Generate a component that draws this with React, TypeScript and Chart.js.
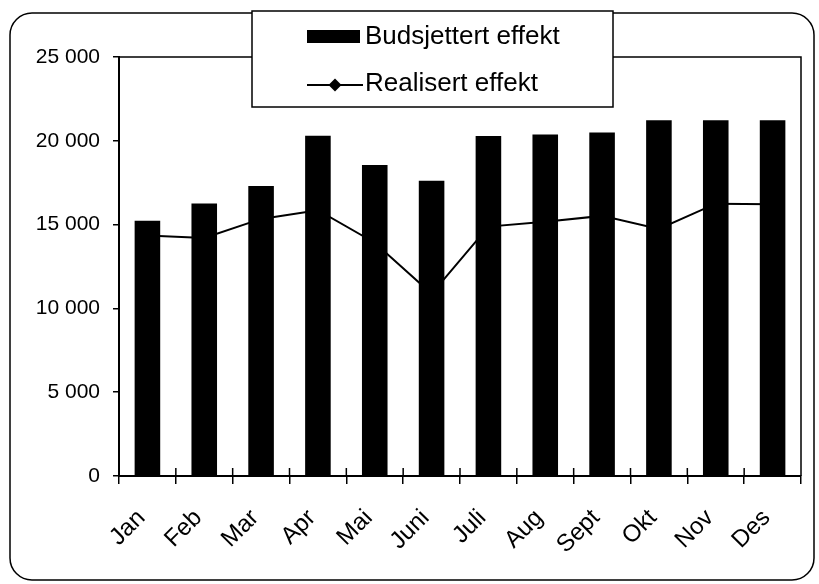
import React, { useEffect, useRef } from "react";
import { Chart, registerables } from "chart.js";

Chart.register(...registerables);

const months = ["Jan", "Feb", "Mar", "Apr", "Mai", "Juni", "Juli", "Aug", "Sept", "Okt", "Nov", "Des"];
const budsjettert = [15230, 16260, 17310, 20300, 18550, 17610, 20280, 20380, 20500, 21230, 21230, 21230];
const realisert = [14350, 14200, 15340, 15860, 13920, 10870, 14880, 15170, 15520, 14740, 16250, 16220];
const seriesNames = ["Budsjettert effekt", "Realisert effekt"];
const yMin = 0;
const yMax = 25000;
const yStep = 5000;

const FONT = "'Liberation Sans', Arial, Helvetica, sans-serif";

const fmt = (v: number) => {
  const s = String(Math.round(v));
  return s.replace(/\B(?=(\d{3})+(?!\d))/g, " ");
};

const decorPlugin = {
  id: "decor",
  beforeDraw(chart: any) {
    const { ctx, width, height } = chart;
    ctx.save();
    ctx.fillStyle = "#fff";
    ctx.fillRect(0, 0, width, height);
    ctx.strokeStyle = "#000";
    ctx.lineWidth = 1.5;
    ctx.beginPath();
    (ctx as any).roundRect(10, 13, 804, 567, 22);
    ctx.stroke();
    ctx.restore();
  },
  afterDatasetsDraw(chart: any) {
    const { ctx, chartArea: a } = chart;
    ctx.save();
    ctx.strokeStyle = "#000";
    ctx.lineWidth = 1.5;
    ctx.beginPath();
    ctx.moveTo(a.left, a.top);
    ctx.lineTo(a.right, a.top);
    ctx.lineTo(a.right, a.bottom);
    ctx.stroke();
    const n = chart.data.labels.length;
    const w = (a.right - a.left) / n;
    ctx.beginPath();
    for (let i = 1; i < n; i++) {
      const x = a.left + i * w;
      ctx.moveTo(x, a.bottom - 8);
      ctx.lineTo(x, a.bottom);
    }
    ctx.stroke();
    ctx.restore();
  },
  afterDraw(chart: any) {
    const { ctx } = chart;
    const ds = chart.data.datasets;
    ctx.save();
    ctx.fillStyle = "#fff";
    ctx.fillRect(252, 11, 361, 96);
    ctx.strokeStyle = "#000";
    ctx.lineWidth = 1.5;
    ctx.strokeRect(252, 11, 361, 96);
    // bar swatch
    ctx.fillStyle = "#000";
    ctx.fillRect(307, 30, 53, 13);
    // line swatch
    ctx.lineWidth = 2;
    ctx.beginPath();
    ctx.moveTo(307, 85);
    ctx.lineTo(363, 85);
    ctx.stroke();
    ctx.beginPath();
    ctx.moveTo(335, 78.5);
    ctx.lineTo(341.5, 85);
    ctx.lineTo(335, 91.5);
    ctx.lineTo(328.5, 85);
    ctx.closePath();
    ctx.fill();
    ctx.font = `26px ${FONT}`;
    ctx.textBaseline = "alphabetic";
    ctx.textAlign = "left";
    ctx.fillText(ds[0].label, 365, 44);
    ctx.fillText(ds[1].label, 365, 91);
    ctx.restore();
  },
};

export default function App() {
  const ref = useRef<HTMLCanvasElement | null>(null);

  useEffect(() => {
    document.body.style.margin = "0";
    if (!ref.current) return;
    const chart = new Chart(ref.current, {
      type: "bar",
      data: {
        labels: months,
        datasets: [
          {
            type: "bar",
            label: seriesNames[0],
            data: budsjettert,
            backgroundColor: "#000",
            borderWidth: 0,
            barPercentage: 0.45,
            categoryPercentage: 1,
            order: 0,
          },
          {
            type: "line",
            label: seriesNames[1],
            data: realisert,
            borderColor: "#000",
            backgroundColor: "#000",
            borderWidth: 2,
            tension: 0,
            pointStyle: "rectRot",
            pointRadius: 6,
            pointBackgroundColor: "#000",
            pointBorderWidth: 0,
            order: 1,
          } as any,
        ],
      },
      options: {
        responsive: false,
        animation: false,
        devicePixelRatio: 1,
        layout: { padding: { left: 0, right: 18, top: 57, bottom: 0 } },
        plugins: {
          legend: { display: false },
          tooltip: { enabled: false },
          title: { display: false },
        },
        scales: {
          x: {
            offset: true,
            grid: {
              offset: true,
              drawOnChartArea: false,
              drawTicks: true,
              tickLength: 8,
              color: "#000",
              lineWidth: 1.5,
            },
            border: { color: "#000", width: 2 },
            ticks: {
              minRotation: 45,
              maxRotation: 45,
              autoSkip: false,
              padding: 20,
              labelOffset: -6,
              color: "#000",
              font: { family: FONT, size: 24 },
            },
            afterFit: (s: any) => {
              s.height = 108;
            },
          },
          y: {
            min: yMin,
            max: yMax,
            grid: {
              drawOnChartArea: false,
              drawTicks: true,
              tickLength: 6,
              color: "#000",
              lineWidth: 1.5,
            },
            border: { color: "#000", width: 2 },
            ticks: {
              stepSize: yStep,
              padding: 13,
              color: "#000",
              font: { family: FONT, size: 21 },
              callback: (v: any) => fmt(Number(v)),
            },
            afterFit: (s: any) => {
              s.width = 119;
            },
          },
        },
      },
      plugins: [decorPlugin],
    });
    return () => chart.destroy();
  }, []);

  return (
    <div style={{ width: 819, height: 584 }}>
      <canvas ref={ref} width={819} height={584} style={{ display: "block" }} />
    </div>
  );
}
